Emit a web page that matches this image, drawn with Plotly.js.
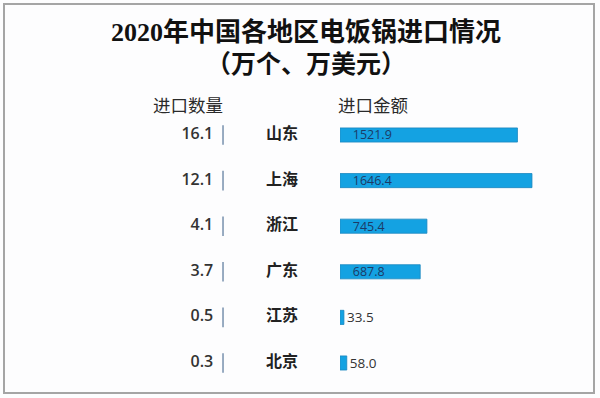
<!DOCTYPE html>
<html>
<head>
<meta charset="utf-8">
<script src="https://cdn.plot.ly/plotly-3.0.1.min.js"></script>
<style>html,body{margin:0;padding:0;background:#fff;}#chart{width:600px;height:398px;}</style>
</head>
<body>
<div id="chart"></div>
<script>
// Data
const provinces = ["山东", "上海", "浙江", "广东", "江苏", "北京"];
const quantity = [16.1, 12.1, 4.1, 3.7, 0.5, 0.3];       // 进口数量（万个）
const amount = [1521.9, 1646.4, 745.4, 687.8, 33.5, 58.0]; // 进口金额（万美元）
const titleLine1 = "2020年中国各地区电饭锅进口情况";
const titleLine2 = "（万个、万美元）";
const headerQty = "进口数量";
const headerAmt = "进口金额";

const cjk = "Noto Sans CJK SC, sans-serif";
const serif = "Liberation Serif, Noto Sans CJK SC, serif";
const num = "Open Sans, Liberation Sans, sans-serif";

const insideLimit = 300;
const textPos = amount.map(v => v > insideLimit ? "inside" : "outside");
const textTpl = amount.map(v => v > insideLimit ? "   %{x:.1f}" : "%{x:.1f}");
const textColors = amount.map(v => v > insideLimit ? "#1c3a66" : "#333333");
const textSizes = amount.map(v => v > insideLimit ? 12.5 : 13.5);

const traces = [
  {
    type: "scatter",
    x: provinces.map(() => 0),
    y: provinces,
    xaxis: "x", yaxis: "y",
    mode: "markers+text",
    cliponaxis: false,
    marker: {symbol: "line-ns", size: 14, line: {width: 1.6, color: "#7f97b2"}},
    text: quantity.map(v => v.toFixed(1)),
    textposition: "middle left",
    textfont: {family: num, size: 16, color: "#333333", weight: 600},
    hoverinfo: "skip"
  },
  {
    type: "scatter",
    x: provinces.map(() => 0),
    y: provinces,
    xaxis: "x2", yaxis: "y",
    mode: "text",
    cliponaxis: false,
    text: provinces,
    textposition: "middle center",
    textfont: {family: cjk, size: 16, color: "#222222", weight: "bold"},
    hoverinfo: "skip"
  },
  {
    type: "bar",
    orientation: "h",
    x: amount,
    y: provinces,
    xaxis: "x3", yaxis: "y",
    width: 0.31,
    marker: {color: "#14a2e2", line: {width: 0.8, color: "#1a86bf"}},
    texttemplate: textTpl,
    textposition: textPos,
    insidetextanchor: "start",
    constraintext: "none",
    cliponaxis: false,
    textfont: {family: num, size: textSizes, color: textColors},
    insidetextfont: {family: num, size: 12.5, color: "#1c3a66"},
    outsidetextfont: {family: num, size: 13.5, color: "#333333"},
    hoverinfo: "skip"
  }
];

const hidden = {showgrid: false, zeroline: false, showticklabels: false, showline: false, ticks: "", fixedrange: true};

const layout = {
  width: 600, height: 398,
  margin: {l: 0, r: 0, t: 0, b: 0},
  paper_bgcolor: "#fdfdfe",
  plot_bgcolor: "rgba(0,0,0,0)",
  showlegend: false,
  xaxis: Object.assign({domain: [0.3617, 0.3817], range: [-1, 1]}, hidden),
  xaxis2: Object.assign({domain: [0.45, 0.49], range: [-1, 1], anchor: "y"}, hidden),
  xaxis3: Object.assign({domain: [0.5667, 0.9833], range: [0, 2144], anchor: "y"}, hidden),
  yaxis: Object.assign({domain: [0.0307, 0.7181], type: "category", categoryorder: "array", categoryarray: provinces, range: [5.5, -0.5]}, hidden),
  annotations: [
    {text: titleLine1, xref: "paper", yref: "paper", x: 0.51, y: 1 - 32/398, xanchor: "center", yanchor: "middle", showarrow: false,
     font: {family: serif, size: 26, color: "#111111", weight: "bold"}},
    {text: titleLine2, xref: "paper", yref: "paper", x: 0.51, y: 1 - 64/398, xanchor: "center", yanchor: "middle", showarrow: false,
     font: {family: serif, size: 25, color: "#111111", weight: "bold"}},
    {text: headerQty, xref: "paper", yref: "paper", x: 188/600, y: 1 - 104/398, xanchor: "center", yanchor: "middle", showarrow: false,
     font: {family: cjk, size: 17.5, color: "#2a2a2a"}},
    {text: headerAmt, xref: "paper", yref: "paper", x: 373/600, y: 1 - 104/398, xanchor: "center", yanchor: "middle", showarrow: false,
     font: {family: cjk, size: 17.5, color: "#2a2a2a"}}
  ],
  shapes: [
    {type: "rect", xref: "paper", yref: "paper", x0: 4/600, x1: 594/600, y0: 1 - 393/398, y1: 1 - 4/398,
     line: {color: "#a5a5a5", width: 2}, fillcolor: "rgba(0,0,0,0)"}
  ]
};

Plotly.newPlot("chart", traces, layout, {displayModeBar: false, staticPlot: true});
</script>
</body>
</html>
